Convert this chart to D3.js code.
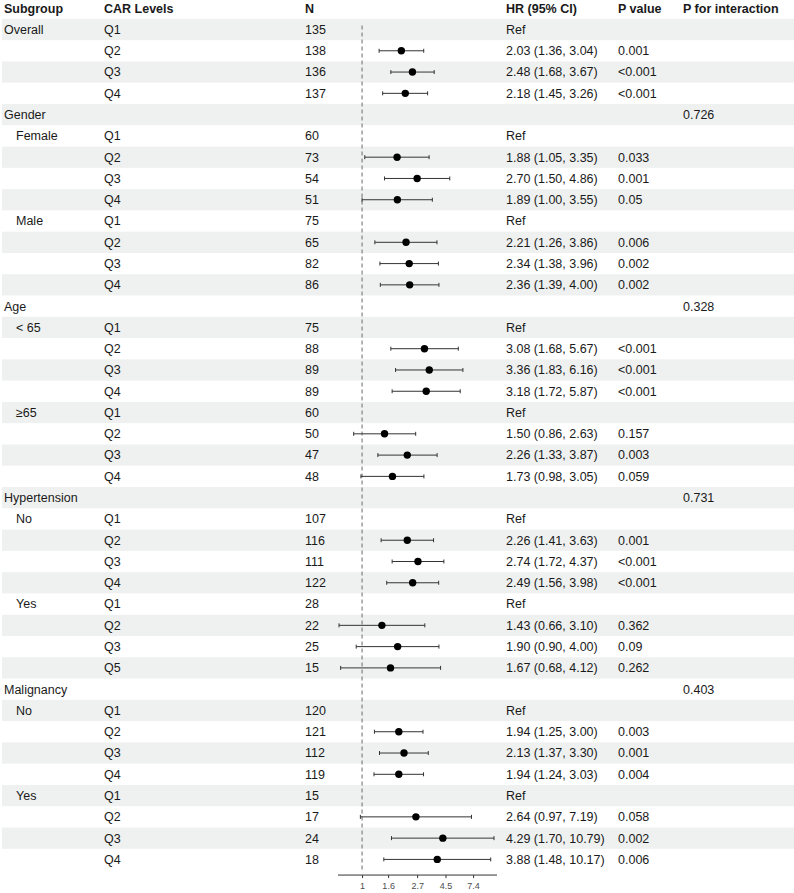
<!DOCTYPE html>
<html>
<head>
<meta charset="utf-8">
<script src="https://cdn.jsdelivr.net/npm/d3@7"></script>
<style>
  body { margin: 0; background: #fff; }
  svg text { font-family: "Liberation Sans", Arial, Helvetica, sans-serif; fill: #1a1a1a; }
</style>
</head>
<body>
<script>
// ---- data, one entry per table row ----
const groups = ["Overall", "", "", "", "Gender", "Female", "", "", "", "Male", "", "", "",
  "Age", "< 65", "", "", "", "≥65", "", "", "",
  "Hypertension", "No", "", "", "", "Yes", "", "", "",
  "Malignancy", "No", "", "", "", "Yes", "", "", ""];
const indented = [false, false, false, false, false, true, false, false, false, true, false, false, false,
  false, true, false, false, false, true, false, false, false,
  false, true, false, false, false, true, false, false, false,
  false, true, false, false, false, true, false, false, false];
const levels = ["Q1", "Q2", "Q3", "Q4", "", "Q1", "Q2", "Q3", "Q4", "Q1", "Q2", "Q3", "Q4",
  "", "Q1", "Q2", "Q3", "Q4", "Q1", "Q2", "Q3", "Q4",
  "", "Q1", "Q2", "Q3", "Q4", "Q1", "Q2", "Q3", "Q5",
  "", "Q1", "Q2", "Q3", "Q4", "Q1", "Q2", "Q3", "Q4"];
const counts = ["135", "138", "136", "137", "", "60", "73", "54", "51", "75", "65", "82", "86",
  "", "75", "88", "89", "89", "60", "50", "47", "48",
  "", "107", "116", "111", "122", "28", "22", "25", "15",
  "", "120", "121", "112", "119", "15", "17", "24", "18"];
const hr = [null, 2.03, 2.48, 2.18, null, null, 1.88, 2.70, 1.89, null, 2.21, 2.34, 2.36,
  null, null, 3.08, 3.36, 3.18, null, 1.50, 2.26, 1.73,
  null, null, 2.26, 2.74, 2.49, null, 1.43, 1.90, 1.67,
  null, null, 1.94, 2.13, 1.94, null, 2.64, 4.29, 3.88];
const lower = [null, 1.36, 1.68, 1.45, null, null, 1.05, 1.50, 1.00, null, 1.26, 1.38, 1.39,
  null, null, 1.68, 1.83, 1.72, null, 0.86, 1.33, 0.98,
  null, null, 1.41, 1.72, 1.56, null, 0.66, 0.90, 0.68,
  null, null, 1.25, 1.37, 1.24, null, 0.97, 1.70, 1.48];
const upper = [null, 3.04, 3.67, 3.26, null, null, 3.35, 4.86, 3.55, null, 3.86, 3.96, 4.00,
  null, null, 5.67, 6.16, 5.87, null, 2.63, 3.87, 3.05,
  null, null, 3.63, 4.37, 3.98, null, 3.10, 4.00, 4.12,
  null, null, 3.00, 3.30, 3.03, null, 7.19, 10.79, 10.17];
const hrText = ["Ref", "2.03 (1.36, 3.04)", "2.48 (1.68, 3.67)", "2.18 (1.45, 3.26)", "",
  "Ref", "1.88 (1.05, 3.35)", "2.70 (1.50, 4.86)", "1.89 (1.00, 3.55)",
  "Ref", "2.21 (1.26, 3.86)", "2.34 (1.38, 3.96)", "2.36 (1.39, 4.00)", "",
  "Ref", "3.08 (1.68, 5.67)", "3.36 (1.83, 6.16)", "3.18 (1.72, 5.87)",
  "Ref", "1.50 (0.86, 2.63)", "2.26 (1.33, 3.87)", "1.73 (0.98, 3.05)", "",
  "Ref", "2.26 (1.41, 3.63)", "2.74 (1.72, 4.37)", "2.49 (1.56, 3.98)",
  "Ref", "1.43 (0.66, 3.10)", "1.90 (0.90, 4.00)", "1.67 (0.68, 4.12)", "",
  "Ref", "1.94 (1.25, 3.00)", "2.13 (1.37, 3.30)", "1.94 (1.24, 3.03)",
  "Ref", "2.64 (0.97, 7.19)", "4.29 (1.70, 10.79)", "3.88 (1.48, 10.17)"];
const pValues = ["", "0.001", "<0.001", "<0.001", "", "", "0.033", "0.001", "0.05", "", "0.006", "0.002", "0.002",
  "", "", "<0.001", "<0.001", "<0.001", "", "0.157", "0.003", "0.059",
  "", "", "0.001", "<0.001", "<0.001", "", "0.362", "0.09", "0.262",
  "", "", "0.003", "0.001", "0.004", "", "0.058", "0.002", "0.006"];
const pInteraction = ["", "", "", "", "0.726", "", "", "", "", "", "", "", "",
  "0.328", "", "", "", "", "", "", "", "",
  "0.731", "", "", "", "", "", "", "", "",
  "0.403", "", "", "", "", "", "", "", ""];
const headers = ["Subgroup", "CAR Levels", "N", "HR (95% CI)", "P value", "P for interaction"];
const tickValues = [1, 1.6, 2.7, 4.5, 7.4];

// ---- layout ----
const W = 794, H = 893;
const ROW_H = 21.28;
const FIRST_ROW_Y = 29.5;
const FONT = 12.5;
const colX = [4, 104, 305, 506, 618, 683];
const INDENT = 12;

const rows = levels.map((d, i) => i);
const y = i => FIRST_ROW_Y + i * ROW_H;

const x = d3.scaleLog()
  .domain([d3.min(lower.filter(v => v != null)), d3.max(upper.filter(v => v != null))])
  .range([339, 494]);

const svg = d3.select("body").append("svg")
  .attr("width", W)
  .attr("height", H);

// ---- stripes ----
svg.append("g").selectAll("rect")
  .data(rows.filter(i => i % 2 === 0))
  .join("rect")
    .attr("x", 2)
    .attr("y", i => y(i) - ROW_H / 2)
    .attr("width", W - 2)
    .attr("height", ROW_H)
    .attr("fill", "#eff1f0");

// ---- header ----
svg.append("g").selectAll("text")
  .data(headers)
  .join("text")
    .attr("x", (d, i) => colX[i])
    .attr("y", y(-1))
    .attr("dy", "0.35em")
    .attr("font-size", FONT)
    .attr("font-weight", "bold")
    .text(d => d);

// ---- table text ----
const columns = [
  { vals: groups, x: i => colX[0] + (indented[i] ? INDENT : 0) },
  { vals: levels, x: () => colX[1] },
  { vals: counts, x: () => colX[2] },
  { vals: hrText, x: () => colX[3] },
  { vals: pValues, x: () => colX[4] },
  { vals: pInteraction, x: () => colX[5] }
];
columns.forEach(col => {
  svg.append("g").selectAll("text")
    .data(rows.filter(i => col.vals[i] !== ""))
    .join("text")
      .attr("x", i => col.x(i))
      .attr("y", i => y(i))
      .attr("dy", "0.35em")
      .attr("font-size", FONT)
      .text(i => col.vals[i]);
});

// ---- reference line ----
svg.append("line")
  .attr("x1", x(1)).attr("x2", x(1))
  .attr("y1", y(0) - 4).attr("y2", y(rows.length - 1) + ROW_H / 2)
  .attr("stroke", "#6b6b6b")
  .attr("stroke-width", 1)
  .attr("stroke-dasharray", "4,3");

// ---- CI lines, caps and points ----
const est = rows.filter(i => hr[i] != null);
const ci = svg.append("g").attr("stroke", "#333").attr("stroke-width", 1);
ci.selectAll("line.ci")
  .data(est)
  .join("line")
    .attr("class", "ci")
    .attr("x1", i => x(lower[i])).attr("x2", i => x(upper[i]))
    .attr("y1", i => y(i)).attr("y2", i => y(i));
ci.selectAll("line.capl")
  .data(est)
  .join("line")
    .attr("class", "capl")
    .attr("x1", i => x(lower[i])).attr("x2", i => x(lower[i]))
    .attr("y1", i => y(i) - 2).attr("y2", i => y(i) + 2);
ci.selectAll("line.capu")
  .data(est)
  .join("line")
    .attr("class", "capu")
    .attr("x1", i => x(upper[i])).attr("x2", i => x(upper[i]))
    .attr("y1", i => y(i) - 2).attr("y2", i => y(i) + 2);

svg.append("g").selectAll("circle")
  .data(est)
  .join("circle")
    .attr("cx", i => x(hr[i]))
    .attr("cy", i => y(i))
    .attr("r", 3.7)
    .attr("fill", "#000");

// ---- axis ----
const axis = d3.axisBottom(x)
  .tickValues(tickValues)
  .tickFormat(d => d)
  .tickSize(3)
  .tickSizeOuter(0);
const gAxis = svg.append("g")
  .attr("transform", `translate(0, ${y(rows.length - 1) + ROW_H / 2 + 5})`)
  .call(axis);
gAxis.select(".domain").attr("stroke", "#333").attr("d", `M${x.range()[0] - 1},0H${x.range()[1] + 3}`);
gAxis.selectAll(".tick line").attr("stroke", "#333");
gAxis.selectAll(".tick text")
  .attr("font-size", 9)
  .attr("dy", "0.85em")
  .style("fill", "#4d4d4d")
  .style("font-family", "\"Liberation Sans\", Arial, sans-serif");
</script>
</body>
</html>
